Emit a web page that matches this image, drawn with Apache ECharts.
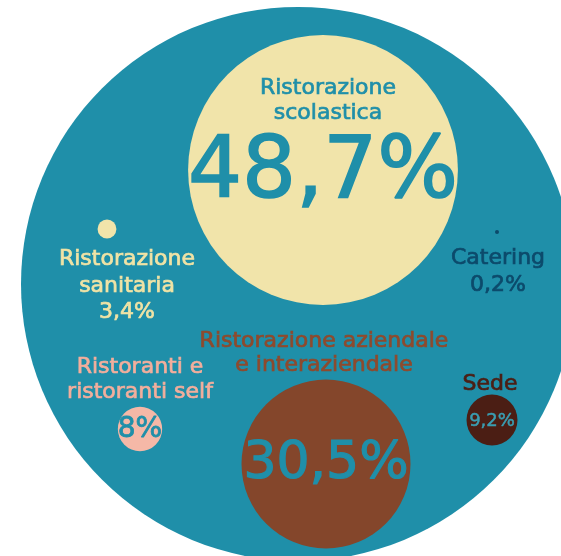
<!DOCTYPE html>
<html>
<head>
<meta charset="utf-8">
<script src="https://cdn.jsdelivr.net/npm/echarts@6/dist/echarts.min.js"></script>
<style>
html,body{margin:0;padding:0;background:#ffffff;}
#chart{width:561px;height:556px;}
</style>
</head>
<body>
<div id="chart"></div>
<script>
// ---- data ----
const categories = [
  'Ristorazione\nscolastica',
  'Ristorazione\nsanitaria',
  'Catering',
  'Ristoranti e\nristoranti self',
  'Ristorazione aziendale\ne interaziendale',
  'Sede'
];
const shares = [48.7, 3.4, 0.2, 8, 30.5, 9.2];
const shareLabels = ['48,7%', '3,4%', '0,2%', '8%', '30,5%', '9,2%'];
const totalShare = 100;

// ---- layout (bubble centres in layout units) ----
const layoutX = [323, 107, 497, 140, 326, 492];
const layoutY = [170, 229, 232, 429, 464, 420];
const totalX = 298, totalY = 284;

// ---- styles ----
const FONT = 'DejaVu Sans';
const TEAL = '#1f8fa9';
const bubbleColors = ['#f1e4aa', '#f1e4aa', '#0c4a6b', '#f5b8a7', '#84462b', '#4b1e14'];
const nameColors   = [TEAL, '#f0e3a5', '#0c4a6b', '#f3ae9c', '#8e4a2d', '#4b1e14'];
const nameLabelCfg = [
  {position: 'inside', offset: [5, -69], lineHeight: 25, withValue: false},
  {position: 'bottom', distance: 8, offset: [20, 0], lineHeight: 26.5, withValue: true},
  {position: 'bottom', distance: 11, offset: [1, 0], lineHeight: 27, withValue: true},
  {position: 'top', distance: 2, offset: [0, 0], lineHeight: 25, withValue: false},
  {position: 'top', distance: 2, offset: [-2, 0], lineHeight: 24, withValue: false},
  {position: 'top', distance: -3, offset: [-2, 0], lineHeight: 26, withValue: false}
];
const valueLabelCfg = [
  {show: true, fontSize: 85, offset: [0, 5], color: TEAL, border: 1.6},
  {show: false},
  {show: false},
  {show: true, fontSize: 28, offset: [0, 1], color: TEAL, border: 0.8},
  {show: true, fontSize: 52, offset: [0, 0], color: TEAL, border: 1.2},
  {show: true, fontSize: 18, offset: [0, 1], color: '#3a9db1', border: 0.5}
];

const K = 554 / totalShare; // diameter per percentage point
const sizeOf = v => Math.max(v * K, 4);

const nameData = shares.map((v, i) => {
  const c = nameLabelCfg[i];
  return {
    value: [layoutX[i], layoutY[i], v],
    itemStyle: {color: bubbleColors[i]},
    label: {
      show: true,
      position: c.position,
      distance: c.distance,
      offset: c.offset,
      formatter: c.withValue ? categories[i] + '\n' + shareLabels[i] : categories[i],
      color: nameColors[i],
      textBorderColor: nameColors[i],
      textBorderWidth: 0.7,
      fontFamily: FONT,
      fontSize: 22,
      lineHeight: c.lineHeight,
      align: 'center'
    }
  };
});

const valueData = shares.map((v, i) => {
  const c = valueLabelCfg[i];
  return {
    value: [layoutX[i], layoutY[i], v],
    label: c.show ? {
      show: true,
      position: 'inside',
      offset: c.offset,
      formatter: shareLabels[i],
      color: c.color,
      textBorderColor: c.color,
      textBorderWidth: c.border,
      fontFamily: FONT,
      fontSize: c.fontSize
    } : {show: false}
  };
});

const chart = echarts.init(document.getElementById('chart'), null, {renderer: 'canvas'});
chart.setOption({
  animation: false,
  backgroundColor: '#ffffff',
  grid: {left: 0, right: 0, top: 0, bottom: 0},
  xAxis: {type: 'value', min: 0, max: 561, show: false},
  yAxis: {type: 'value', min: 0, max: 556, inverse: true, show: false},
  series: [
    {
      type: 'scatter',
      name: 'Totale',
      silent: true,
      symbol: 'circle',
      symbolSize: val => sizeOf(val[2]),
      itemStyle: {color: TEAL, opacity: 1},
      data: [[totalX, totalY, totalShare]],
      z: 1
    },
    {
      type: 'scatter',
      name: 'Quote',
      silent: true,
      symbol: 'circle',
      symbolSize: val => sizeOf(val[2]),
      itemStyle: {opacity: 1},
      data: nameData,
      z: 2
    },
    {
      type: 'scatter',
      name: 'Valori',
      silent: true,
      symbol: 'circle',
      symbolSize: val => sizeOf(val[2]),
      itemStyle: {color: 'rgba(0,0,0,0)', opacity: 1},
      data: valueData,
      z: 3
    }
  ]
});
</script>
</body>
</html>
